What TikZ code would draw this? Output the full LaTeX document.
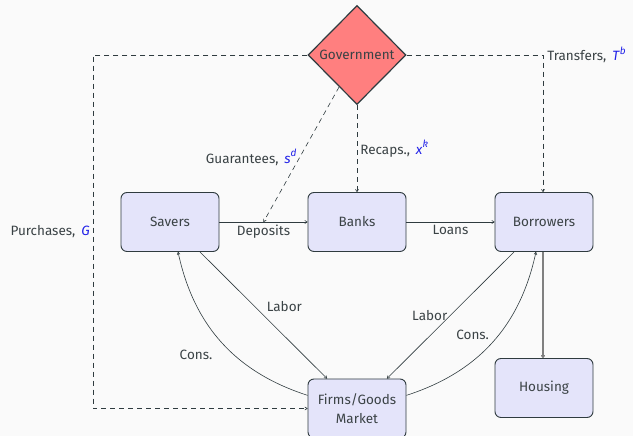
\documentclass[tikz,border=0pt]{standalone}
\usepackage{fontspec}
\setmainfont{Fira Sans}
\usetikzlibrary{shapes.geometric,arrows.meta}
\definecolor{txt}{HTML}{3A4245}
\definecolor{ln}{HTML}{2F3B3F}
\definecolor{boxfill}{HTML}{E4E4FA}
\definecolor{govfill}{HTML}{FF7F7F}
\definecolor{bg}{HTML}{FAFAFA}
\definecolor{mblue}{HTML}{2020E8}
\newcommand{\mv}[1]{\textcolor{mblue}{\textit{#1}}}
\newcommand{\msup}[1]{\raisebox{0.9ex}{\fontsize{10}{10}\selectfont\mv{#1}}}
\tikzset{
  box/.style={draw=ln, line width=0.9pt, fill=boxfill, rounded corners=6pt,
    minimum width=98pt, minimum height=59pt, inner sep=0pt, align=center, text=txt},
  govnode/.style={diamond, draw=ln, line width=1.2pt, fill=govfill, minimum width=98pt,
    minimum height=99pt, inner sep=0pt, text=txt},
  conn/.style={draw=ln, line width=0.6pt, -{To[length=3pt,width=3.5pt]}},
  dconn/.style={conn, dash pattern=on 5pt off 4pt},
  lbl/.style={text=txt, inner sep=3pt},
}
\begin{document}
\begin{tikzpicture}[x=1pt,y=1pt,font=\fontsize{13.5}{17}\selectfont]
\fill[bg] (0,0) rectangle (633,436);
\useasboundingbox (0,0) rectangle (633,436);
\node[govnode] (gov) at (357,381) {Government};
\node[box] (sav) at (170,214) {Savers};
\node[box] (bank) at (357,214) {Banks};
\node[box] (bor) at (544,214) {Borrowers};
\node[box] (firm) at (357,27.5) {Firms/Goods\\[2pt]Market};
\node[box] (house) at (544,48) {Housing};
\coordinate (pl) at (93,381);
\coordinate (pb) at (93,27.5);
\coordinate (tr) at (543,381);
% deposits / loans
\draw[conn] (sav) -- node[lbl, below] {Deposits} coordinate[midway] (dep) (bank);
\draw[conn] (bank) -- node[lbl, below] {Loans} (bor);
% government flows
\draw[dconn] (gov.west) -- (pl) -- node[lbl, left, pos=0.5] {Purchases, \,\mv{G}} (pb) -- (firm.west);
\draw[dconn] (gov.east) -- (tr) node[lbl, right, anchor=west, xshift=1pt] {Transfers, \,\mv{T}\msup{b}} -- (bor.north -| tr);
\draw[dconn] (gov.south) -- node[lbl, right] {Recaps., \,\mv{x}\msup{k}} (bank.north);
\draw[dconn] (gov) -- node[lbl, left, pos=0.52] {Guarantees, \,\mv{s}\msup{d}} (dep);
% labor
\draw[conn] (sav) -- node[lbl, above right, pos=0.5] {Labor} (firm);
\draw[conn] (bor) -- node[lbl, left, pos=0.5] {Labor} (firm);
% consumption
\draw[conn] (firm) to[bend left=30] node[lbl, below left, pos=0.47, xshift=-10pt] {Cons.} (sav);
\draw[conn] (firm) to[bend right=30] node[lbl, above left, pos=0.5] {Cons.} (bor);
% housing
\draw[draw=gray, line width=1.2pt, -{To[length=3pt,width=4pt]}] (bor.south -| tr) -- (house.north -| tr);
\end{tikzpicture}
\end{document}
